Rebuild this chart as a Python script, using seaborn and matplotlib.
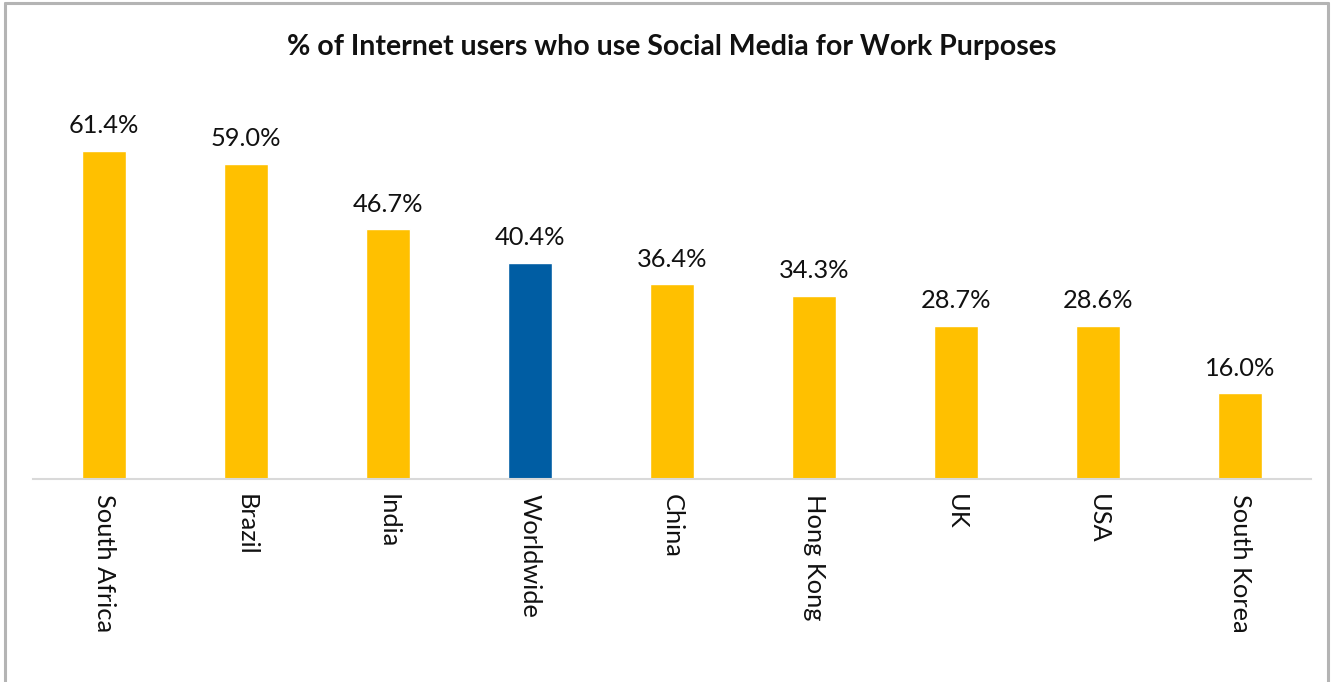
import matplotlib
matplotlib.use("Agg")
import matplotlib.pyplot as plt
import pandas as pd
import seaborn as sns
from matplotlib.lines import Line2D

sns.set_style("white")
plt.rcParams["font.family"] = ["Lato", "DejaVu Sans"]

yellow = "#FFC000"
blue = "#005DA3"

countries = ["South Africa", "Brazil", "India", "Worldwide", "China",
             "Hong Kong", "UK", "USA", "South Korea"]
shares = [61.4, 59.0, 46.7, 40.4, 36.4, 34.3, 28.7, 28.6, 16.0]
highlight = "Worldwide"

df = pd.DataFrame({"country": countries, "share": shares})
palette = {c: (blue if c == highlight else yellow) for c in countries}

fig = plt.figure(figsize=(13.31, 6.82), dpi=100)
ax = fig.add_axes([0.0248, 0.2977, 0.9602, 0.5484])

sns.barplot(data=df, x="country", y="share", hue="country", palette=palette,
            order=countries, width=0.31, legend=False, saturation=1, ax=ax)

for cont in ax.containers:
    ax.bar_label(cont, labels=[f"{v:.1f}%" for v in cont.datavalues],
                 padding=10, fontsize=18.3, color="#111111")

ax.set_ylim(0, 70)
ax.set_xlim(-0.5, len(countries) - 0.5)
ax.set_yticks([])
ax.set_xlabel("")
ax.set_ylabel("")
ax.tick_params(axis="x", length=0, pad=11, labelsize=18.3, labelcolor="#111111")
for lab in ax.get_xticklabels():
    lab.set_rotation(-90)
    lab.set_va("top")
    lab.set_ha("center")

for s in ["top", "left", "right"]:
    ax.spines[s].set_visible(False)
ax.spines["bottom"].set_color("#D9D9D9")
ax.spines["bottom"].set_linewidth(1.5)

fig.text(0.505, 0.931, "% of Internet users who use Social Media for Work Purposes",
         ha="center", va="center", fontsize=20.5, fontweight="bold", color="#111111")

# outer chart frame
frame = dict(color="#B4B4B4", linewidth=2.2, transform=fig.transFigure)
fig.add_artist(Line2D([0.004, 0.004], [0.0, 0.996], **frame))
fig.add_artist(Line2D([0.004, 0.9975], [0.996, 0.996], **frame))
fig.add_artist(Line2D([0.9975, 0.9975], [0.0, 0.996], **frame))

fig.savefig("out.png", dpi=100)
